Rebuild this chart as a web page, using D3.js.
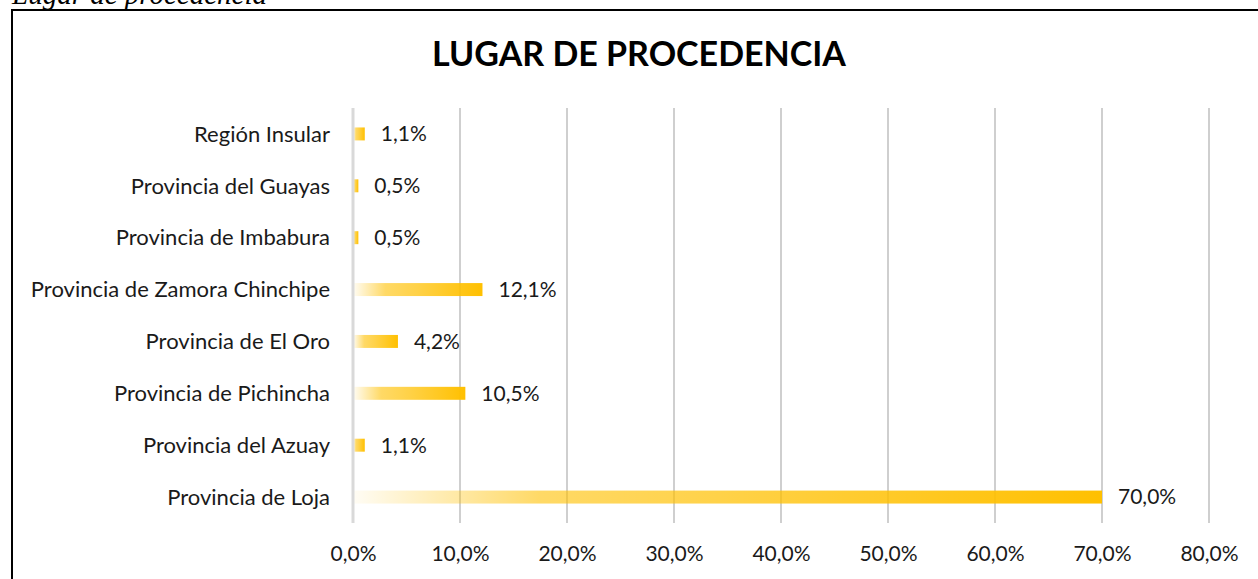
<!DOCTYPE html>
<html>
<head>
<meta charset="utf-8">
<script src="https://cdn.jsdelivr.net/npm/d3@7"></script>
<style>
  body { margin: 0; background: #fff; }
  svg { display: block; }
</style>
</head>
<body>
<script>
// data, top to bottom as in the chart
var categories = ["Región Insular", "Provincia del Guayas", "Provincia de Imbabura",
                  "Provincia de Zamora Chinchipe", "Provincia de El Oro",
                  "Provincia de Pichincha", "Provincia del Azuay", "Provincia de Loja"];
var values = [0.011, 0.005, 0.005, 0.121, 0.042, 0.105, 0.011, 0.700];
var tickValues = [0, 0.1, 0.2, 0.3, 0.4, 0.5, 0.6, 0.7, 0.8];

var W = 1258, H = 579;
var labelFont = "Lato, 'Open Sans', sans-serif";

var svg = d3.select("body").append("svg")
    .attr("width", W)
    .attr("height", H);

// gradient: gold getting more opaque to the right
var grad = svg.append("defs").append("linearGradient")
    .attr("id", "barGrad")
    .attr("x1", "0").attr("x2", "1").attr("y1", "0").attr("y2", "0");
[[0, 0.04], [0.25, 0.6], [0.5, 0.72], [1, 1]].forEach(function(s) {
  grad.append("stop")
      .attr("offset", s[0])
      .attr("stop-color", "#FFC000")
      .attr("stop-opacity", s[1]);
});

// caption above the frame (cut off by the top edge, as in the original)
svg.append("text")
    .attr("x", 12)
    .attr("y", 4)
    .attr("font-family", "'Liberation Serif', 'DejaVu Serif', serif")
    .style("font-style", "italic")
    .style("font-size", "29px")
    .attr("fill", "#000")
    .text("Lugar de procedencia");

// frame
svg.append("rect")
    .attr("x", 12)
    .attr("y", 10)
    .attr("width", W + 20)
    .attr("height", H + 20)
    .attr("fill", "none")
    .style("stroke", "#000")
    .style("stroke-width", 2);

// title
svg.append("text")
    .attr("x", 639)
    .attr("y", 66)
    .attr("font-family", labelFont)
    .style("font-weight", "bold")
    .style("font-size", "34px")
    .style("text-anchor", "middle")
    .attr("fill", "#000")
    .text("LUGAR DE PROCEDENCIA");

var x = d3.scaleLinear().domain([0, 0.8]).range([353, 1209]);
var y = d3.scaleBand().domain(categories).range([108, 523]);
var barH = y.bandwidth() * 0.25;

var fmt = function(v) { return d3.format(".1f")(v * 100).replace(".", ",") + "%"; };

// gridlines
svg.selectAll(".grid")
    .data(tickValues.slice(1))
    .enter().append("line")
    .attr("class", "grid")
    .attr("x1", function(d) { return x(d); })
    .attr("x2", function(d) { return x(d); })
    .attr("y1", 108)
    .attr("y2", 523)
    .style("stroke", "#BFBFBF")
    .style("stroke-width", 1.5);

// bars
svg.selectAll(".bar")
    .data(values)
    .enter().append("rect")
    .attr("class", "bar")
    .attr("x", x(0))
    .attr("y", function(d, i) { return y(categories[i]) + y.bandwidth() / 2 - barH / 2; })
    .attr("width", function(d) { return x(d) - x(0); })
    .attr("height", barH)
    .attr("fill", "url(#barGrad)");

// zero axis line
svg.append("line")
    .attr("x1", x(0)).attr("x2", x(0))
    .attr("y1", 108).attr("y2", 523)
    .style("stroke", "#D9D9D9")
    .style("stroke-width", 3);

// category labels
svg.selectAll(".cat")
    .data(categories)
    .enter().append("text")
    .attr("class", "cat")
    .attr("x", 330)
    .attr("y", function(d) { return y(d) + y.bandwidth() / 2; })
    .attr("dy", ".35em")
    .attr("font-family", labelFont)
    .style("font-size", "22px")
    .style("text-anchor", "end")
    .attr("fill", "#1a1a1a")
    .text(function(d) { return d; });

// data labels
svg.selectAll(".val")
    .data(values)
    .enter().append("text")
    .attr("class", "val")
    .attr("x", function(d) { return x(d) + 16; })
    .attr("y", function(d, i) { return y(categories[i]) + y.bandwidth() / 2; })
    .attr("dy", ".35em")
    .attr("font-family", labelFont)
    .style("font-size", "21px")
    .attr("fill", "#1a1a1a")
    .text(function(d) { return fmt(d); });

// x axis tick labels
var xAxis = d3.axisBottom(x).tickValues(tickValues).tickSize(0).tickFormat(fmt);
var gx = svg.append("g")
    .attr("transform", "translate(0,543)")
    .call(xAxis);
gx.select(".domain").remove();
gx.selectAll("text")
    .attr("font-family", labelFont)
    .style("font-size", "21px")
    .attr("fill", "#1a1a1a");
</script>
</body>
</html>
